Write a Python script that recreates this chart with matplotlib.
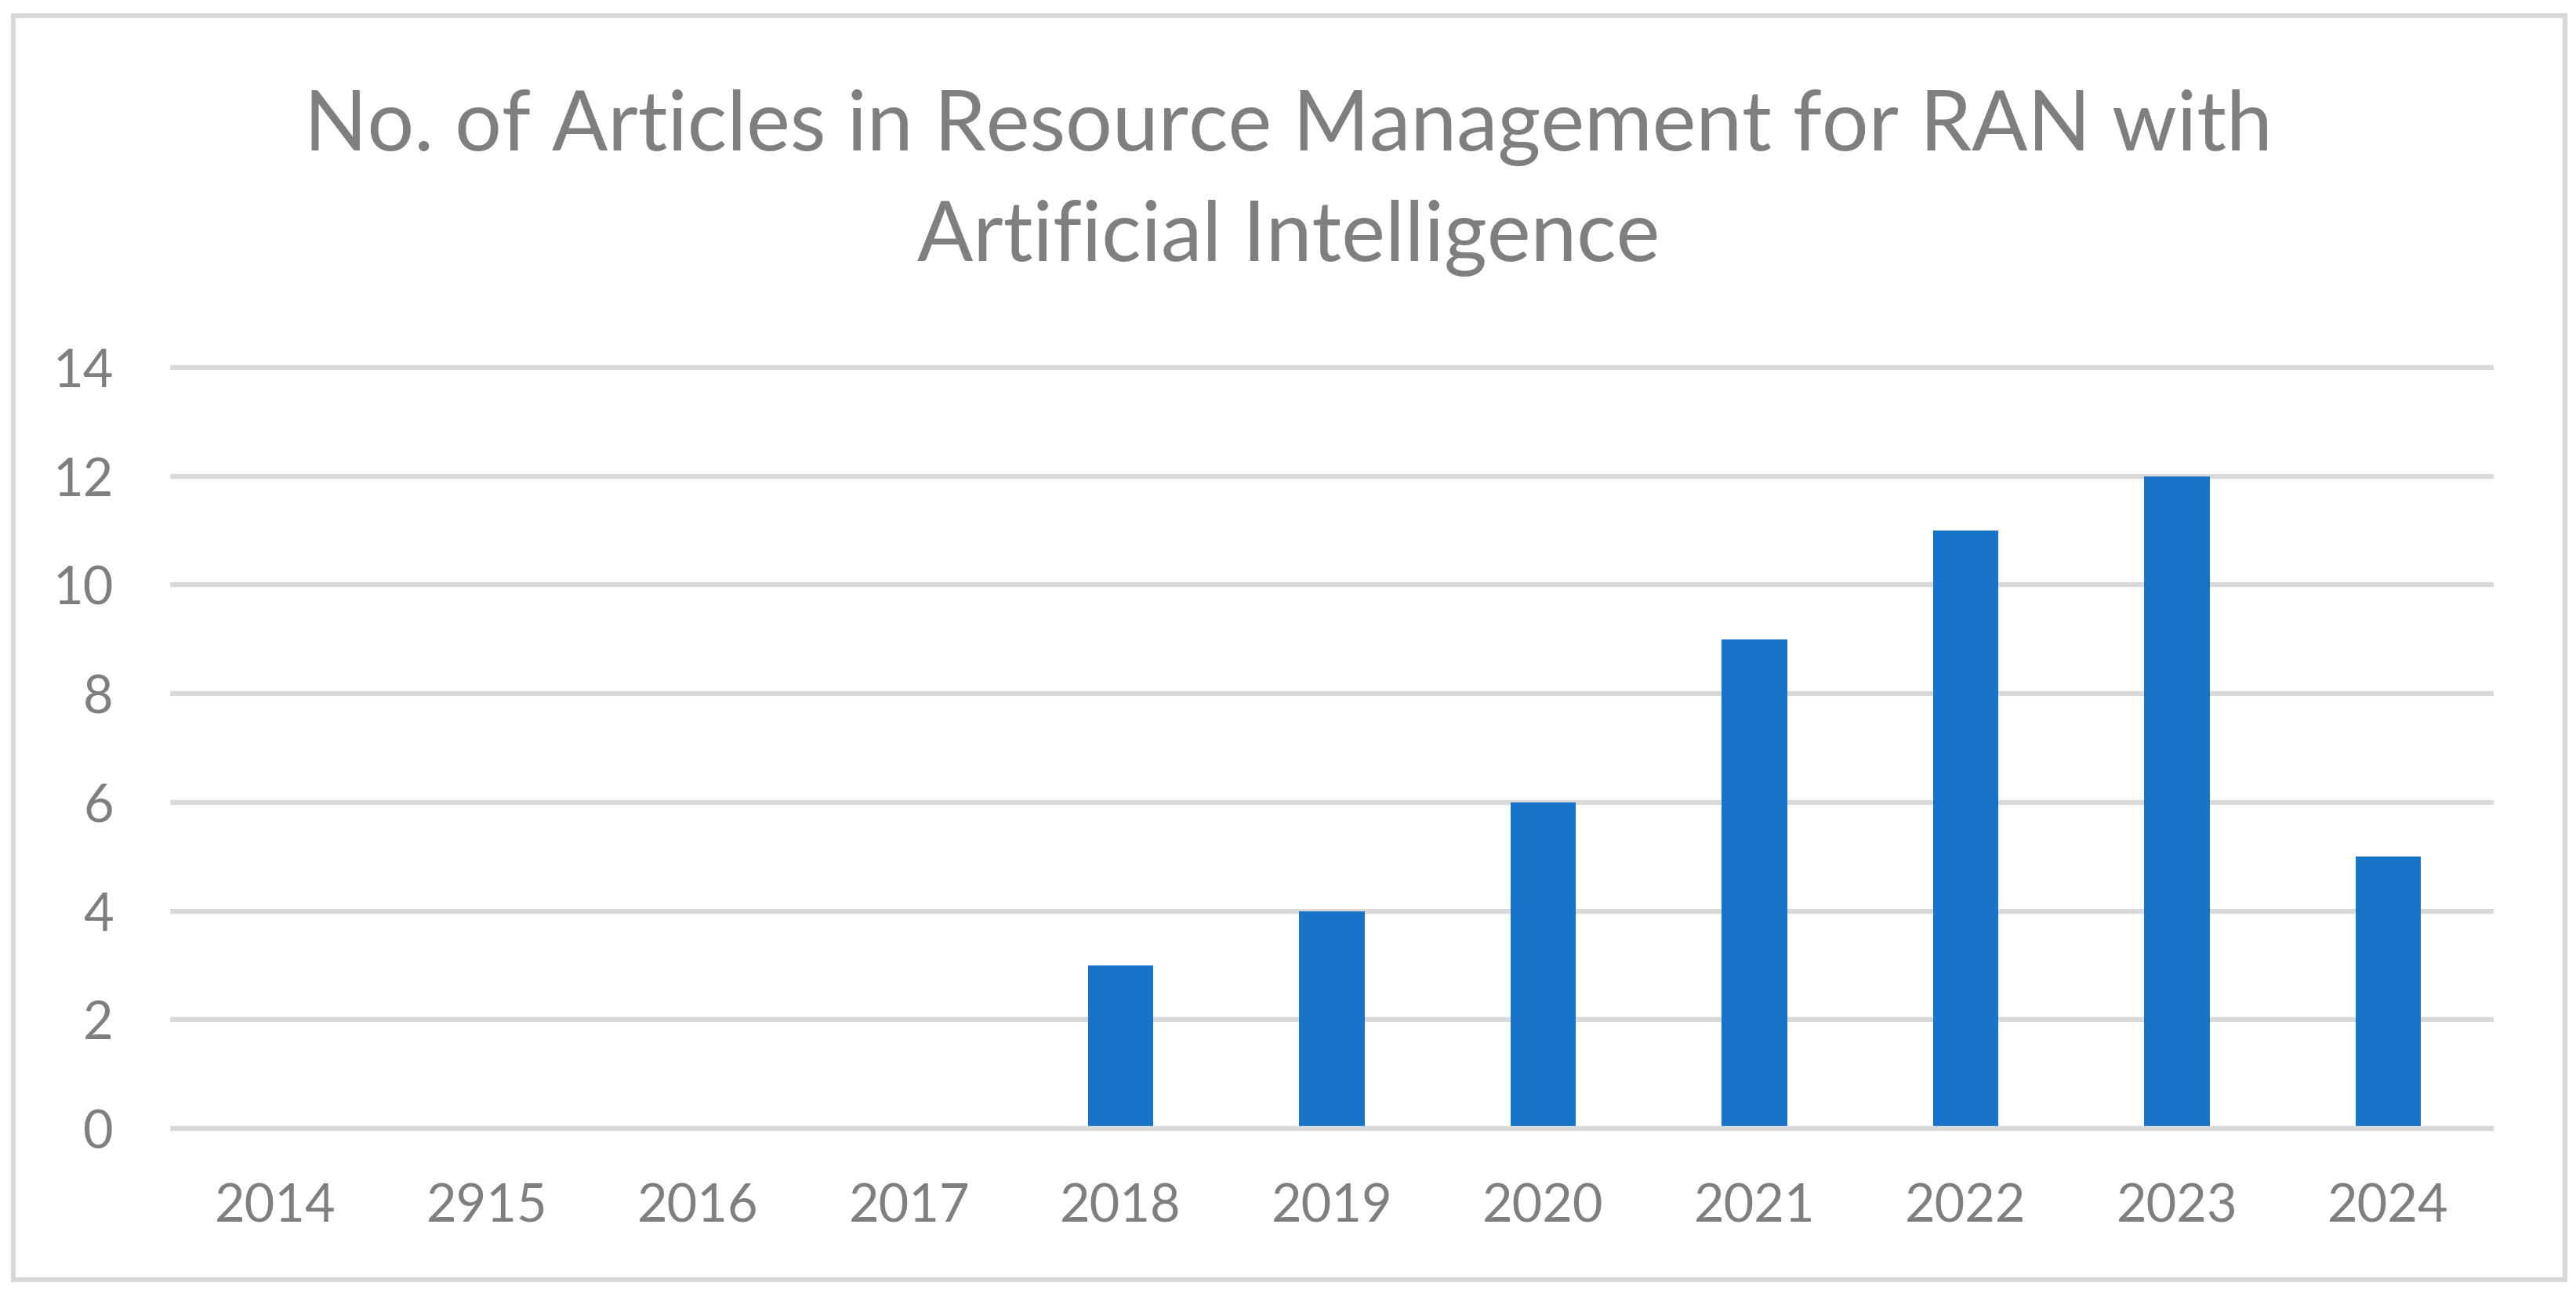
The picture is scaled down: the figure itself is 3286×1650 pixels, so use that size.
import matplotlib.pyplot as plt
from matplotlib.patches import Rectangle

plt.rcParams['font.family'] = ['Lato', 'DejaVu Sans']

# data (the "2915" label is as printed in the original)
years = ['2014', '2915', '2016', '2017', '2018', '2019', '2020', '2021', '2022', '2023', '2024']
articles = [0, 0, 0, 0, 3, 4, 6, 9, 11, 12, 5]
y_ticks = [0, 2, 4, 6, 8, 10, 12, 14]

title_1 = 'No. of Articles in Resource Management for RAN with'
title_2 = 'Artificial Intelligence'

W, H = 3287, 1650
gray_text = '#7F7F7F'
grid_col = '#D9D9D9'
bar_col = '#1874C8'

fig = plt.figure(figsize=(W / 100, H / 100), dpi=100)
ax = fig.add_axes([217 / W, 1 - 1440 / H, (3181 - 217) / W, (1440 - 469) / H])

x = list(range(len(years)))
ax.bar(x, articles, width=0.31, color=bar_col, zorder=3)

# horizontal gridlines, not clipped at the top/bottom
ax.hlines(y_ticks, -0.5, len(years) - 0.5, colors=grid_col, linewidth=4.5,
          zorder=1, clip_on=False)
ax.hlines([0], -0.5, len(years) - 0.5, colors=grid_col, linewidth=4.5,
          zorder=4, clip_on=False)

ax.set_xlim(-0.5, len(years) - 0.5)
ax.set_ylim(0, 14)
ax.set_xticks(x)
ax.set_xticklabels(years)
ax.set_yticks(y_ticks)
ax.tick_params(axis='both', length=0, labelsize=48, labelcolor=gray_text)
ax.tick_params(axis='y', pad=52)
ax.tick_params(axis='x', pad=50)
for s in ax.spines.values():
    s.set_visible(False)

fig.text(0.5, 1 - 192 / H, title_1, ha='center', va='baseline',
         fontsize=76, color=gray_text)
fig.text(0.5, 1 - 333 / H, title_2, ha='center', va='baseline',
         fontsize=76, color=gray_text)

# chart border
fig.add_artist(Rectangle((17 / W, 1 - 1633 / H), (3272 - 17) / W, (1633 - 20) / H,
                         transform=fig.transFigure, fill=False,
                         edgecolor=grid_col, linewidth=4.5))

fig.savefig('out.png', dpi=100)
